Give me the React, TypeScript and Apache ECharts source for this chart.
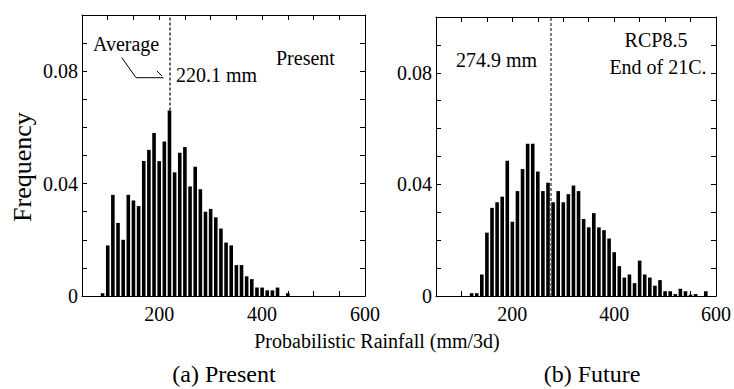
import React, { useEffect, useRef } from "react";
import * as echarts from "echarts";

// Present climate histogram (bin centre in mm/3d, frequency)
const presentBins = [90, 100, 110, 120, 130, 140, 150, 160, 170, 180, 190, 200, 210, 220, 230, 240, 250, 260, 270, 280, 290, 300, 310, 320, 330, 340, 350, 360, 370, 380, 390, 400, 410, 420, 430, 440, 450];
const presentFreq = [0.001, 0.018, 0.036, 0.026, 0.020, 0.036, 0.034, 0.032, 0.048, 0.052, 0.058, 0.048, 0.055, 0.066, 0.044, 0.051, 0.053, 0.039, 0.046, 0.038, 0.030, 0.031, 0.028, 0.024, 0.019, 0.018, 0.011, 0.011, 0.007, 0.006, 0.003, 0.003, 0.002, 0.002, 0.003, 0, 0.001];

// Future climate (RCP8.5, end of 21C.)
const futureBins = [120, 130, 140, 150, 160, 170, 180, 190, 200, 210, 220, 230, 240, 250, 260, 270, 280, 290, 300, 310, 320, 330, 340, 350, 360, 370, 380, 390, 400, 410, 420, 430, 440, 450, 460, 470, 480, 490, 500, 510, 520, 530, 540, 550, 560, 570, 580];
const futureFreq = [0.001, 0.001, 0.0077, 0.0227, 0.0316, 0.0336, 0.0356, 0.0485, 0.0266, 0.0376, 0.0455, 0.0546, 0.0546, 0.0446, 0.0376, 0.0406, 0.0336, 0.0376, 0.0336, 0.0365, 0.0396, 0.0376, 0.0276, 0.0246, 0.0297, 0.0246, 0.0236, 0.0206, 0.0157, 0.0107, 0.0066, 0.0077, 0.0046, 0.0127, 0.0077, 0.0066, 0.0037, 0.0057, 0.0017, 0.0017, 0.0007, 0.0026, 0.0017, 0.0005, 0.0007, 0, 0.0017];

const presentMean = 220.1;
const futureMean = 274.9;

const xMin = 50;
const xMax = 600;
const xInterval = 50;
const xLabelValues = [200, 400, 600];
const yMin = 0;
const yMax = 0.1;
const yInterval = 0.01;
const yLabelValues = ["0", "0.04", "0.08"];

const FONT = "Liberation Serif, serif";

export default function App() {
  const ref = useRef<HTMLDivElement>(null);

  useEffect(() => {
    if (!ref.current) return;
    const chart = echarts.init(ref.current, null, { renderer: "svg" });

    const lineStyle = { color: "#000", width: 1 };
    const xLabelFmt = (v: number) => (xLabelValues.includes(Math.round(v)) ? String(Math.round(v)) : "");
    const yLabelFmt = (v: number) => {
      const r = Math.round(v * 100);
      const s = r === 0 ? "0" : (r / 100).toFixed(2);
      return yLabelValues.includes(s) ? s : "";
    };

    const bottomX = (gridIndex: number) => ({
      type: "value",
      gridIndex,
      position: "bottom",
      min: xMin,
      max: xMax,
      interval: xInterval,
      axisLine: { show: true, onZero: false, lineStyle },
      axisTick: { show: true, inside: true, length: 5, lineStyle },
      axisLabel: {
        formatter: xLabelFmt,
        showMinLabel: true,
        showMaxLabel: true,
        color: "#000",
        fontFamily: FONT,
        fontSize: 20,
        margin: 8,
      },
      splitLine: { show: false },
    });
    const topX = (gridIndex: number) => ({
      type: "value",
      gridIndex,
      position: "top",
      min: xMin,
      max: xMax,
      interval: xInterval,
      axisLine: { show: true, onZero: false, lineStyle },
      axisTick: { show: true, inside: true, length: 5, lineStyle },
      axisLabel: { show: false },
      splitLine: { show: false },
    });
    const leftY = (gridIndex: number) => ({
      type: "value",
      gridIndex,
      position: "left",
      min: yMin,
      max: yMax,
      interval: yInterval,
      axisLine: { show: true, onZero: false, lineStyle },
      axisTick: { show: true, inside: true, length: 5, lineStyle },
      axisLabel: {
        formatter: yLabelFmt,
        showMinLabel: true,
        color: "#000",
        fontFamily: FONT,
        fontSize: 20,
        margin: 4,
      },
      splitLine: { show: false },
    });
    const rightY = (gridIndex: number) => ({
      type: "value",
      gridIndex,
      position: "right",
      min: yMin,
      max: yMax,
      interval: yInterval,
      axisLine: { show: true, onZero: false, lineStyle },
      axisTick: { show: true, inside: true, length: 5, lineStyle },
      axisLabel: { show: false },
      splitLine: { show: false },
    });

    const dashed = { color: "#333", width: 1.5, type: [3, 2] as any };

    const textEl = (text: string, x: number, y: number, size: number, align = "left", rotation = 0) => ({
      type: "text",
      x,
      y,
      rotation,
      silent: true,
      style: {
        text,
        fill: "#000",
        fontFamily: FONT,
        fontSize: size,
        textAlign: align,
        textVerticalAlign: "middle",
      },
    });

    chart.setOption({
      animation: false,
      backgroundColor: "#fff",
      textStyle: { fontFamily: FONT },
      grid: [
        { left: 82, top: 15, width: 283, height: 281 },
        { left: 436, top: 17, width: 281, height: 279 },
      ],
      xAxis: [bottomX(0), topX(0), bottomX(1), topX(1)],
      yAxis: [leftY(0), rightY(0), leftY(1), rightY(1)],
      series: [
        {
          type: "bar",
          xAxisIndex: 0,
          yAxisIndex: 0,
          barWidth: 3.6,
          itemStyle: { color: "#000" },
          data: presentBins.map((b, i) => [b, presentFreq[i]]),
          markLine: {
            silent: true,
            symbol: "none",
            label: { show: false },
            lineStyle: dashed,
            data: [[{ coord: [presentMean, Math.max(...presentFreq)] }, { coord: [presentMean, yMax] }]],
          },
        },
        {
          type: "bar",
          xAxisIndex: 2,
          yAxisIndex: 2,
          barWidth: 3.6,
          itemStyle: { color: "#000" },
          data: futureBins.map((b, i) => [b, futureFreq[i]]),
          markLine: {
            silent: true,
            symbol: "none",
            label: { show: false },
            lineStyle: { ...dashed, color: "#555" },
            data: [[{ coord: [futureMean, 0] }, { coord: [futureMean, yMax] }]],
          },
        },
      ],
      graphic: [
        textEl("Average", 93, 44, 20),
        textEl("220.1 mm", 176, 75, 20),
        textEl("Present", 276, 58, 20),
        {
          type: "polyline",
          silent: true,
          shape: { points: [[121.7, 57.5], [136, 77.7], [163.5, 77.7]] },
          style: { stroke: "#000", lineWidth: 1, fill: "none" },
        },
        {
          type: "line",
          silent: true,
          shape: { x1: 157, y1: 71, x2: 162, y2: 76 },
          style: { stroke: "#000", lineWidth: 1 },
        },
        textEl("274.9 mm", 456, 60, 20),
        textEl("RCP8.5", 656, 40, 20, "center"),
        textEl("End of 21C.", 658, 67, 20, "center"),
        textEl("Frequency", 22, 167, 26, "center", Math.PI / 2),
        textEl("Probabilistic Rainfall (mm/3d)", 377, 341, 20, "center"),
        textEl("(a) Present", 224, 374, 24, "center"),
        textEl("(b) Future", 592, 374, 24, "center"),
      ],
    });

    return () => chart.dispose();
  }, []);

  return <div ref={ref} style={{ position: "fixed", left: 0, top: 0, width: 734, height: 389 }} />;
}
